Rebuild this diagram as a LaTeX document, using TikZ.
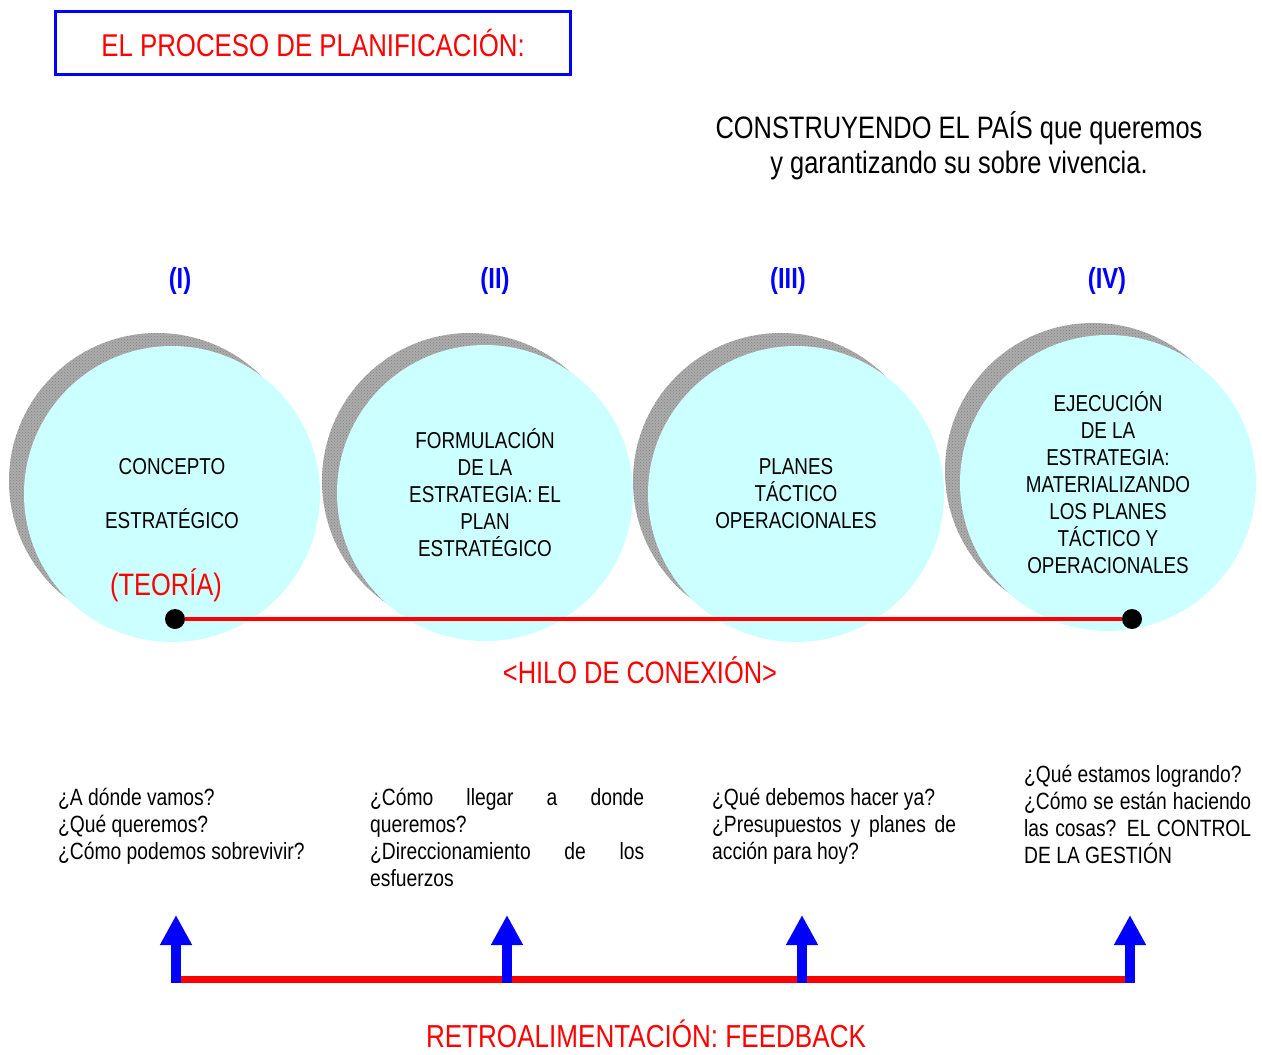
\documentclass[tikz,border=0pt]{standalone}
\usepackage{fontspec}
\setmainfont{Liberation Sans}[FakeStretch=0.82]
\usetikzlibrary{arrows.meta,patterns}
\definecolor{bubble}{HTML}{CCFFFF}

\begin{document}
\begin{tikzpicture}[x=1pt,y=-1pt,style={
  blob/.style={
    circle,
    minimum size=296pt,
    inner sep=0pt,
  },
  shadowstyle/.style={
    blob,
    fill=gray!65,
    postaction={pattern=crosshatch dots, pattern color=gray},
  },
  stagestyle/.style={
    blob,
    fill=bubble,
    align=center,
    font=\fontsize{23}{27}\selectfont,
  },
  numstyle/.style={
    text=blue,
    font=\fontsize{29}{32}\selectfont\bfseries,
  },
  redlabel/.style={
    text=red,
    font=\fontsize{31}{34}\selectfont,
  },
  questionstyle/.style={
    anchor=north west,
    inner sep=0pt,
    align=justify,
    font=\fontsize{23.5}{27}\selectfont,
  },
  dotstyle/.style={circle, fill=black, minimum size=20pt, inner sep=0pt},
  hilo/.style={red, line width=3.5pt},
  feedline/.style={red, line width=7pt},
  feedarrow/.style={-{Triangle[width=30pt,length=30pt]}, line width=10pt, blue}
}]
\useasboundingbox (0,0) rectangle (1262,1055);

% titulo
\draw[]
  node[draw=blue, line width=3pt, minimum width=515pt, minimum height=63pt,
    text=red, font=\fontsize{31.5}{36}\selectfont] (title) at (313,43)
    {EL PROCESO DE PLANIFICACIÓN:}
  node[align=center, font=\fontsize{31}{35}\selectfont] (lema) at (959,146) {
    CONSTRUYENDO EL PAÍS que queremos\\
    y garantizando su sobre vivencia.
  }
;

% etapas
\draw[]
  node[shadowstyle] (sh1) at (157,481) {}
  node[shadowstyle] (sh2) at (470,481) {}
  node[shadowstyle] (sh3) at (781,481) {}
  node[shadowstyle] (sh4) at (1093,471) {}
  node[stagestyle] (stage1) at (172,494) {CONCEPTO\\[27pt]ESTRATÉGICO}
  node[stagestyle] (stage2) at (485,493) {
    FORMULACIÓN\\DE LA\\ESTRATEGIA: EL\\PLAN\\ESTRATÉGICO
  }
  node[stagestyle] (stage3) at (796,494) {PLANES\\TÁCTICO\\OPERACIONALES}
  node[stagestyle] (stage4) at (1108,483) {
    EJECUCIÓN\\DE LA\\ESTRATEGIA:\\MATERIALIZANDO\\LOS PLANES\\TÁCTICO Y\\OPERACIONALES
  }
  node[numstyle] (num1) at (180,281) {(I)}
  node[numstyle] (num2) at (495,281) {(II)}
  node[numstyle] (num3) at (788,281) {(III)}
  node[numstyle] (num4) at (1107,281) {(IV)}
  node[redlabel] (teoria) at (166,585) {(TEORÍA)}
;

% hilo de conexion
\node[dotstyle] (dotleft) at (175,619) {};
\node[dotstyle] (dotright) at (1132,619) {};
\draw[hilo] (dotleft) -- (dotright);
\node[redlabel] (hilolabel) at (640,670) {<HILO DE CONEXIÓN>};

% preguntas
\draw[]
  node[questionstyle, text width=260pt] (q1) at (58,788) {
    ¿A dónde vamos?\\
    ¿Qué queremos?\\
    ¿Cómo podemos sobrevivir?
  }
  node[questionstyle, text width=274pt] (q2) at (370,788) {
    ¿Cómo llegar a donde\linebreak
    queremos?\\
    ¿Direccionamiento de los\linebreak
    esfuerzos
  }
  node[questionstyle, text width=244pt] (q3) at (712,788) {
    ¿Qué debemos hacer ya?\\
    ¿Presupuestos y planes de\linebreak
    acción para hoy?
  }
  node[questionstyle, text width=227pt] (q4) at (1024,765) {
    ¿Qué estamos logrando?\\
    ¿Cómo se están haciendo\linebreak
    las cosas? EL CONTROL\linebreak
    DE LA GESTIÓN
  }
;

% retroalimentacion
\coordinate (fb1) at (176,983);
\coordinate (fb2) at (507,983);
\coordinate (fb3) at (802,983);
\coordinate (fb4) at (1130,983);
\coordinate (tip1) at (176,915);
\coordinate (tip2) at (507,915);
\coordinate (tip3) at (802,915);
\coordinate (tip4) at (1130,915);
\draw[feedline] ([yshift=4pt]fb1) -- ([yshift=4pt]fb4);
\foreach \i in {1,...,4}
  \draw[feedarrow] (fb\i) -- (tip\i);
\node[redlabel, inner sep=0pt, font=\fontsize{31.8}{36}\selectfont] (feedback)
  at (646,1034) {RETROALIMENTACIÓN: FEEDBACK};
\end{tikzpicture}
\end{document}
